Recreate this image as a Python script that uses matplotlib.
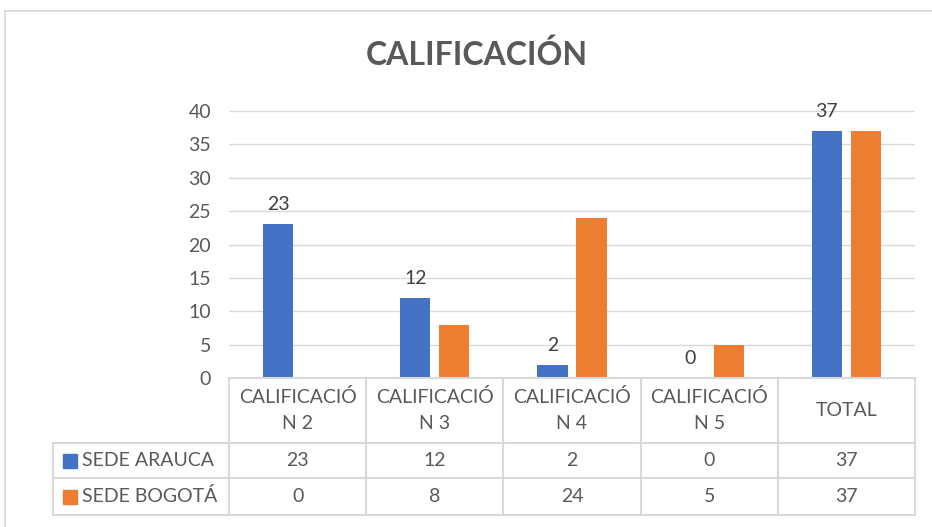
import matplotlib.pyplot as plt
from matplotlib.patches import Rectangle
from matplotlib.lines import Line2D
import numpy as np

plt.rcParams['font.family'] = ['Lato', 'DejaVu Sans']

categorias = ["CALIFICACIÓ\nN 2", "CALIFICACIÓ\nN 3", "CALIFICACIÓ\nN 4", "CALIFICACIÓ\nN 5", "TOTAL"]
series = ["SEDE ARAUCA", "SEDE BOGOTÁ"]
arauca = [23, 12, 2, 0, 37]
bogota = [0, 8, 24, 5, 37]
colores = ["#4472C4", "#ED7D31"]

W, H = 932, 527
fs = 14
fig = plt.figure(figsize=(W / 100, H / 100), dpi=100)

# borde del grafico
fig.add_artist(Line2D([5 / W, 5 / W], [0, 1 - 11 / H], color="#d9d9d9", lw=1.2))
fig.add_artist(Line2D([5 / W, 1], [1 - 11 / H, 1 - 11 / H], color="#d9d9d9", lw=1.2))

ax = fig.add_axes([229 / W, 1 - 378 / H, (915 - 229) / W, (378 - 111) / H])
x = np.arange(len(categorias))
ancho = 0.22
sep = 0.065
b1 = ax.bar(x - (ancho + sep) / 2, arauca, ancho, color=colores[0], zorder=3)
b2 = ax.bar(x + (ancho + sep) / 2, bogota, ancho, color=colores[1], zorder=3)

for rect, v in zip(b1, arauca):
    ax.annotate(str(v), (rect.get_x() + rect.get_width() / 2, v), xytext=(0, 8),
                textcoords="offset points", ha="center", va="bottom",
                fontsize=fs, color="#404040")

ax.set_xlim(-0.5, len(categorias) - 0.5)
ax.set_ylim(0, 40)
ax.set_yticks(range(0, 41, 5))
ax.yaxis.grid(True, color="#d9d9d9", lw=1)
ax.set_axisbelow(True)
ax.tick_params(axis="y", length=0, labelsize=fs, labelcolor="#595959", pad=13)
ax.set_xticks([])
for s in ax.spines.values():
    s.set_visible(False)

fig.text(477 / W, 1 - 55 / H, "CALIFICACIÓN", ha="center", va="center",
         fontsize=23, fontweight="bold", color="#595959")

# tabla de datos
izq = 176 / 137.2
tx = fig.add_axes([53 / W, 1 - 515 / H, (915 - 53) / W, (515 - 378) / H])
tx.set_xlim(-0.5 - izq, len(categorias) - 0.5)
tx.set_ylim(137, 0)
tx.axis("off")
lc = "#d9d9d9"
filas = [0, 65, 100, 137]
for i in range(len(categorias) + 1):
    tx.plot([i - 0.5, i - 0.5], [0, 137], color=lc, lw=1.5, clip_on=False)
tx.plot([-0.5 - izq, -0.5 - izq], [65, 137], color=lc, lw=1.5, clip_on=False)
tx.plot([-0.5, len(categorias) - 0.5], [0, 0], color=lc, lw=1.5, clip_on=False)
for yy in filas[1:]:
    tx.plot([-0.5 - izq, len(categorias) - 0.5], [yy, yy], color=lc, lw=1.5, clip_on=False)

for i, c in enumerate(categorias):
    tx.text(i, 32, c, ha="center", va="center", fontsize=fs, color="#595959",
            linespacing=1.65)
for r, (nombre, vals, col) in enumerate(zip(series, [arauca, bogota], colores)):
    yc = (filas[r + 1] + filas[r + 2]) / 2
    tx.add_patch(Rectangle((-0.5 - izq + 10 / 137.2, yc - 7), 14 / 137.2, 14,
                           color=col, clip_on=False))
    tx.text(-0.5 - izq + 29 / 137.2, yc, nombre, ha="left", va="center",
            fontsize=fs, color="#595959")
    for i, v in enumerate(vals):
        tx.text(i, yc, str(v), ha="center", va="center", fontsize=fs, color="#595959")

fig.savefig("out.png", dpi=100)
